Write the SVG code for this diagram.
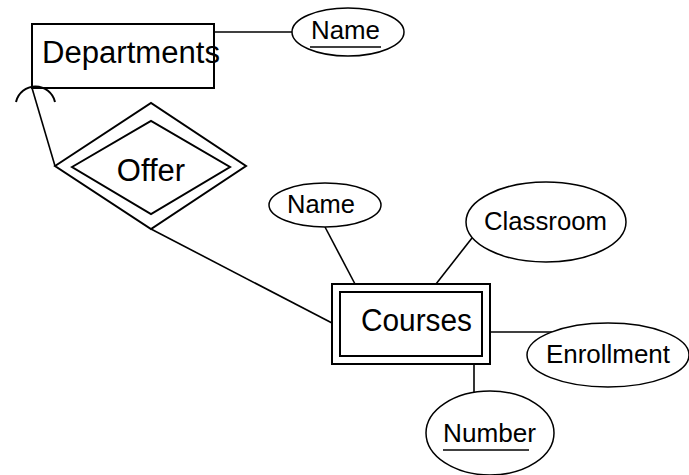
<svg xmlns="http://www.w3.org/2000/svg" width="689" height="475" viewBox="0 0 689 475">
<style>
.s{fill:none;stroke:#000;stroke-width:2}
.e{fill:#fff;stroke:#000;stroke-width:1.5}
.t{font-family:"Liberation Sans",Arial,sans-serif;fill:#000}
.b{font-size:31px}
.a{font-size:26px}
</style>
<rect width="689" height="475" fill="#fff"/>
<g id="connectors" fill="none" stroke="#000" stroke-width="1.6">
<line x1="214" y1="32" x2="292" y2="32"/>
<line x1="32" y1="88" x2="55" y2="166"/>
<path d="M16,102 A20,20 0 0 1 55,102" stroke-width="2"/>
<line x1="151" y1="229" x2="332" y2="323"/>
<line x1="325" y1="227" x2="355" y2="284"/>
<line x1="472" y1="238" x2="436" y2="284"/>
<line x1="490" y1="332" x2="556" y2="332"/>
<line x1="474" y1="364" x2="474" y2="392"/>
</g>
<g id="departments">
<rect x="32" y="24" width="182" height="64" class="s" stroke-width="2.5"/>
<text x="42" y="63" class="t b" textLength="178" lengthAdjust="spacingAndGlyphs">Departments</text>
</g>
<g id="dept-name">
<ellipse cx="348" cy="32" rx="56" ry="24" class="e"/>
<text x="311" y="39" class="t a" textLength="69" lengthAdjust="spacingAndGlyphs">Name</text>
<line x1="310" y1="47" x2="381" y2="47" stroke="#000" stroke-width="1.5"/>
</g>
<g id="offer">
<polygon points="55,166 151,103 246,166 151,229" class="s"/>
<polygon points="72,167 151,121 230,167 151,214" class="s"/>
<text x="151" y="181" class="t b" text-anchor="middle">Offer</text>
</g>
<g id="courses">
<rect x="332" y="284" width="158" height="80" class="s" stroke-width="2.5"/>
<rect x="340" y="292" width="142" height="64" class="s" stroke-width="2.5"/>
<text x="361" y="331" class="t b" textLength="111" lengthAdjust="spacingAndGlyphs">Courses</text>
</g>
<g id="course-name">
<ellipse cx="325" cy="205" rx="56" ry="22" class="e"/>
<text x="287" y="213" class="t a" textLength="68" lengthAdjust="spacingAndGlyphs">Name</text>
</g>
<g id="classroom">
<ellipse cx="546" cy="222" rx="80" ry="40" class="e"/>
<text x="484" y="230" class="t a" textLength="123" lengthAdjust="spacingAndGlyphs">Classroom</text>
</g>
<g id="enrollment">
<ellipse cx="608" cy="355" rx="81" ry="32" class="e"/>
<text x="546" y="363" class="t a" textLength="124" lengthAdjust="spacingAndGlyphs">Enrollment</text>
</g>
<g id="number">
<ellipse cx="490" cy="433" rx="64" ry="42" class="e"/>
<text x="443" y="442" class="t a" textLength="93" lengthAdjust="spacingAndGlyphs">Number</text>
<line x1="443" y1="450" x2="529" y2="450" stroke="#000" stroke-width="1.5"/>
</g>
</svg>
